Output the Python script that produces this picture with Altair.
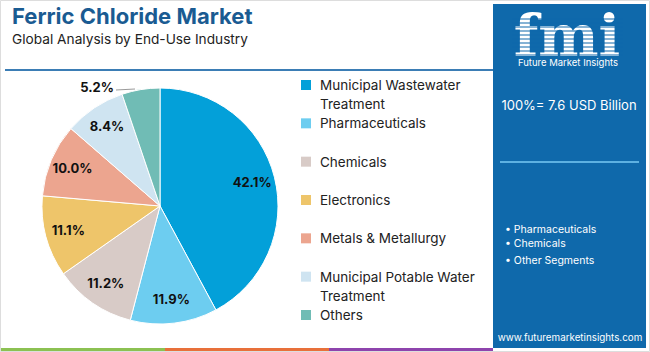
import altair as alt
import pandas as pd

categories = ["Municipal Wastewater Treatment", "Pharmaceuticals", "Chemicals",
              "Electronics", "Metals & Metallurgy", "Municipal Potable Water Treatment", "Others"]
legend_labels = ["Municipal Wastewater\nTreatment", "Pharmaceuticals", "Chemicals",
                 "Electronics", "Metals & Metallurgy", "Municipal Potable Water\nTreatment", "Others"]
shares = [42.1, 11.9, 11.2, 11.1, 10.0, 8.4, 5.2]
colors = ["#03a0d9", "#6dcdf0", "#d8cbc7", "#eec56a", "#eca58f", "#cfe4f1", "#70bcb5"]

title_text = "Ferric Chloride Market"
subtitle_text = "Global Analysis by End-Use Industry"
total_text = "100%= 7.6 USD Billion"
bullets = ["• Pharmaceuticals", "• Chemicals", "• Other Segments"]
url_text = "www.futuremarketinsights.com"

FONT = "Inter"
PANEL = "#0f69ab"

df = pd.DataFrame({"category": categories, "label": legend_labels,
                   "value": shares, "order": list(range(len(categories)))})
one = pd.DataFrame({"k": [0]})

cx, cy, R = 160, 206, 118

color = alt.Color("category:N", scale=alt.Scale(domain=categories, range=colors), legend=None)

base = alt.Chart(df).encode(
    theta=alt.Theta("value:Q", stack=True),
    order=alt.Order("order:Q"),
    color=color,
    x=alt.value(cx), y=alt.value(cy),
)
pie = base.mark_arc(outerRadius=R, stroke="white", strokeWidth=1)
pie_labels = base.transform_calculate(
    lbl="datum.value > 6 ? format(datum.value, '.1f') + '%' : ''"
).mark_text(radius=95, font=FONT, fontSize=13, fontWeight="bold", color="#111").encode(
    text="lbl:N", color=alt.value("#111"))

small = df[df["value"] < 6]
small_label = alt.Chart(small).transform_calculate(
    lbl="format(datum.value, '.1f') + '%'"
).mark_text(font=FONT, fontSize=13, fontWeight="bold", color="#111").encode(
    text="lbl:N", x=alt.value(97), y=alt.value(88))
leader = alt.Chart(one).mark_rule(color="#9a9a9a", strokeWidth=1).encode(
    x=alt.value(116), x2=alt.value(135), y=alt.value(90), y2=alt.value(89))

ys = alt.Y("category:N", sort=categories, axis=None,
           scale=alt.Scale(type="point", range=[85, 315], padding=0))
leg_sq = alt.Chart(df).mark_square(size=100, opacity=1).encode(
    x=alt.value(306), y=ys, color=color)
leg_tx = alt.Chart(df).mark_text(align="left", baseline="alphabetic", dy=5, lineBreak="\n",
                                 lineHeight=19, font=FONT, fontSize=13.5, color="#222").encode(
    x=alt.value(320), y=ys, text="label:N")


def txt(s, x, y, size, col="white", align="center", weight="normal", font=FONT):
    return alt.Chart(one).mark_text(text=s, align=align, baseline="alphabetic", font=font,
                                    fontSize=size, fontWeight=weight, color=col).encode(
        x=alt.value(x), y=alt.value(y))


title = txt(title_text, 12, 24, 22, col="#1a5b92", align="left", weight="bold")
subtitle = txt(subtitle_text, 12, 44, 13.7, col="#222", align="left")
sep = alt.Chart(one).mark_rule(color="#3b7db5", strokeWidth=2).encode(
    x=alt.value(5), x2=alt.value(493), y=alt.value(70))

border = alt.Chart(one).mark_rect(fill="white", stroke="#dddddd", strokeWidth=1).encode(
    x=alt.value(0.5), x2=alt.value(649.5), y=alt.value(0.5), y2=alt.value(351.5))
strip_cols = ["#8cc152", "#e8703a", "#8e44ad"]
strips = alt.layer(*[
    alt.Chart(one).mark_rect(color=c).encode(
        x=alt.value(x0), x2=alt.value(x1), y=alt.value(348), y2=alt.value(351))
    for c, x0, x1 in zip(strip_cols, [1, 165, 329], [165, 329, 493])
])

panel = alt.Chart(one).mark_rect(color=PANEL).encode(
    x=alt.value(493), x2=alt.value(646), y=alt.value(4), y2=alt.value(348))
logo = txt("fmi", 567, 56, 57, weight="bold", font="DejaVu Serif")
stripes = alt.layer(*[
    alt.Chart(one).mark_rule(color=PANEL, strokeWidth=1.2).encode(
        x=alt.value(512), x2=alt.value(623), y=alt.value(v), y2=alt.value(v))
    for v in range(19, 56, 4)
])
logo_sub = txt("Future Market Insights", 568, 65.5, 9.5)
total = txt(total_text, 569, 110, 13)
psep = alt.Chart(one).mark_rule(color="#5db1e2", strokeWidth=2).encode(
    x=alt.value(500), x2=alt.value(639), y=alt.value(162))
bullet_layers = alt.layer(*[txt(b, 505, yv, 10.5, align="left")
                            for b, yv in zip(bullets, [233, 247, 264])])
url = txt(url_text, 570, 341, 9.8)

chart = alt.layer(
    border, strips, title, subtitle, sep, pie, pie_labels, small_label, leader,
    leg_sq, leg_tx, panel, logo, stripes, logo_sub, total, psep, bullet_layers, url
).properties(
    width=650, height=352, padding=0, autosize=alt.AutoSizeParams(type="none"),
    background="white"
).configure_view(stroke=None)

chart.save("out.html", embed_options={"renderer": "svg", "actions": False})
